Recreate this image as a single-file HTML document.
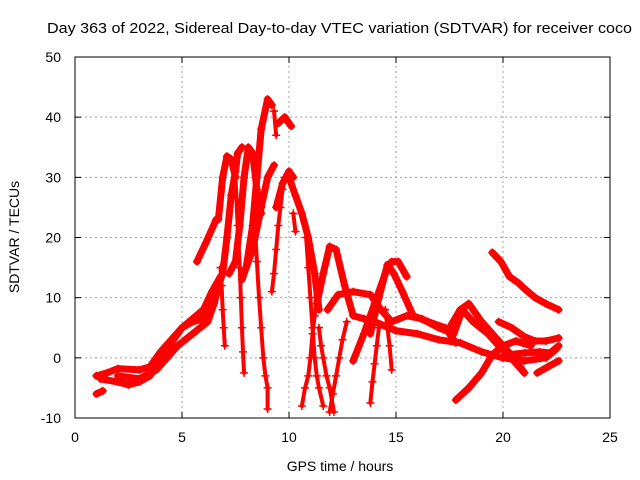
<!DOCTYPE html>
<html><head><meta charset="utf-8"><style>
html,body{margin:0;padding:0;background:#fff}
svg{display:block;font-family:"Liberation Sans",sans-serif}
</style></head><body>
<svg id="chart" width="640" height="480" viewBox="0 0 640 480" xmlns="http://www.w3.org/2000/svg">
<text x="47" y="33" font-size="15" textLength="585" lengthAdjust="spacingAndGlyphs">Day 363 of 2022, Sidereal Day-to-day VTEC variation (SDTVAR) for receiver coco</text>
<text x="340" y="471" font-size="14" text-anchor="middle">GPS time / hours</text>
<text transform="translate(19,237) rotate(-90)" font-size="14" text-anchor="middle">SDTVAR / TECUs</text>
<g id="grid"></g>
<g id="ticks"></g>
<g id="series"></g>
<rect x="75" y="57" width="535" height="361" fill="none" stroke="#000" stroke-width="1"/>
</svg>
<script>
const xTicks=[0,5,10,15,20,25];
const yTicks=[-10,0,10,20,30,40,50];
const denseTracks=[
 [[1,-3],[1.5,-2.5],[2,-1.8],[3,-2],[3.5,-1.5],[4,1],[4.5,3],[5,5],[5.5,6.5],[6,8],[6.4,11],[6.8,13.5]],
 [[1.2,-3.5],[2,-4],[2.5,-4.5],[3,-4],[3.5,-3],[4,-0.5],[4.5,2.5],[5,5],[5.5,6],[6,6.5],[6.3,8],[6.6,11],[6.9,14],[7.1,20],[7.3,27],[7.5,31],[7.6,34],[7.8,35]],
 [[2,-3],[3,-3.5],[3.8,-2],[4.3,0],[4.8,2],[5.5,4],[6.2,6],[6.5,9],[6.7,12]],
 [[5.7,16],[6.1,19],[6.6,23]],
 [[6.7,23],[6.9,30],[7.1,33.5],[7.3,33],[7.5,30]],
 [[7.2,14],[7.5,16],[7.7,22],[7.9,30],[8.1,35],[8.3,34],[8.5,28],[8.7,24]],
 [[8.0,15],[8.3,22],[8.5,30],[8.7,38],[9.0,43],[9.2,42]],
 [[7.8,13],[8.3,18],[8.7,25],[9.0,30],[9.3,32]],
 [[9.5,39],[9.8,40],[10.1,38.5]],
 [[9.4,25],[9.7,29],[10.0,31],[10.2,30]],
 [[10.0,30],[10.3,27],[10.6,24],[10.9,20],[11.2,14],[11.4,8]],
 [[11.3,9],[11.6,14],[11.9,18.5],[12.2,18],[12.6,12],[13,7],[13.5,6.5],[14,6],[15,4.5],[16,4],[17,3],[18,2.5],[19,1],[20,0],[21,-0.5],[22,0],[22.5,1.5]],
 [[13,-0.5],[13.5,4],[14,9],[14.5,14],[14.8,16],[15.1,16],[15.5,13.5]],
 [[13.8,4],[14.2,10],[14.6,15.5],[14.9,14],[15.3,11],[15.8,7],[16.5,6],[17.3,5],[17.8,2.5]],
 [[11.8,8],[12.3,10.5],[13,11],[13.8,10.5],[14.3,8],[14.8,6],[15.5,7],[16.2,6.5],[17,5],[17.7,4],[18.1,8],[18.6,6],[19.3,4],[19.8,2],[20.5,-0.5],[21,-2.5]],
 [[17.5,5],[18,8],[18.4,9],[19,6],[19.5,4],[20,2],[20.5,0],[21,-2.5]],
 [[17.8,-7],[18.4,-5],[19,-2.5],[19.5,0.5],[20,2],[20.6,2.8],[21.3,2]],
 [[19.5,17.5],[19.9,16],[20.3,13.5],[20.7,12.5],[21,11.5],[21.5,10],[22,9],[22.6,8]],
 [[19.8,6],[20.4,5],[21,3.5],[21.5,2.8],[22,2.8],[22.6,3.3]],
 [[20.2,0.5],[21,0.8],[21.7,1],[22.2,0.8],[22.6,2]],
 [[21.6,-2.5],[22.1,-1.5],[22.6,-0.5]],
 [[1,-6],[1.3,-5.5]]
];
const sparseTracks=[
 [[6.8,15],[6.85,12],[6.9,8],[6.95,5],[7.0,2]],
 [[7.5,30],[7.6,22],[7.7,15],[7.75,10],[7.8,5],[7.85,1],[7.9,-2.5]],
 [[8.4,22],[8.5,16],[8.6,10],[8.7,5],[8.8,0],[8.9,-3],[9.0,-5],[9.0,-8.5]],
 [[9.2,11],[9.3,14],[9.4,18],[9.5,22],[9.6,25],[9.7,28],[9.8,30]],
 [[9.3,41],[9.4,37]],
 [[10.2,24],[10.3,21]],
 [[10.8,20],[10.9,15],[11.0,10],[11.1,5],[11.2,0],[11.3,-3],[11.4,-5],[11.6,-8]],
 [[10.6,-8],[10.75,-5],[10.9,-3],[11.0,0],[11.1,4],[11.2,7],[11.3,10]],
 [[11.4,5],[11.5,2],[11.6,0],[11.75,-3],[11.9,-5],[12.1,-9]],
 [[11.9,-9],[12.05,-6],[12.2,-3],[12.35,0],[12.5,3],[12.7,6]],
 [[13.8,-7.5],[13.9,-4],[14.0,-1],[14.1,2],[14.2,5]],
 [[14.5,8],[14.6,5],[14.7,2],[14.8,-2]]
];
const X0=75,X1=610,Y0=418,Y1=57,XMIN=0,XMAX=25,YMIN=-10,YMAX=50;
const sx=v=>X0+(v-XMIN)/(XMAX-XMIN)*(X1-X0);
const sy=v=>Y0-(v-YMIN)/(YMAX-YMIN)*(Y0-Y1);
const NS="http://www.w3.org/2000/svg";
const grid=document.getElementById('grid'),ticks=document.getElementById('ticks'),series=document.getElementById('series');
function mk(tag,attrs,parent){const e=document.createElementNS(NS,tag);for(const k in attrs)e.setAttribute(k,attrs[k]);parent.appendChild(e);return e;}
xTicks.forEach(t=>{
 const x=sx(t);
 if(t>XMIN&&t<XMAX){const g=mk('line',{x1:x,x2:x,y1:Y0,y2:Y1,stroke:'#a0a0a0','stroke-dasharray':'2,3'},grid);
 
 }
 mk('line',{x1:x,x2:x,y1:Y0,y2:Y0-6,stroke:'#000'},ticks);
 mk('line',{x1:x,x2:x,y1:Y1,y2:Y1+6,stroke:'#000'},ticks);
 const l=mk('text',{x:x,y:Y0+24,'font-size':14,'text-anchor':'middle'},ticks);l.textContent=t;
 
 
});
yTicks.forEach(t=>{
 const y=sy(t);
 if(t>YMIN&&t<YMAX){const g=mk('line',{x1:X0,x2:X1,y1:y,y2:y,stroke:'#a0a0a0','stroke-dasharray':'2,3'},grid);
 
 }
 mk('line',{x1:X0,x2:X0+6,y1:y,y2:y,stroke:'#000'},ticks);
 mk('line',{x1:X1,x2:X1-6,y1:y,y2:y,stroke:'#000'},ticks);
 const l=mk('text',{x:X0-14,y:y+5,'font-size':14,'text-anchor':'end'},ticks);l.textContent=t;
 
 
});
function drawTrack(pts,w,name){
 const p=mk('polyline',{points:pts.map(q=>sx(q[0])+','+sy(q[1])).join(' '),fill:'none',stroke:'#ff0000','stroke-width':w,'stroke-linejoin':'round','stroke-linecap':'round'},series);
 
 
 pts.forEach(q=>{const x=sx(q[0]),y=sy(q[1]);
  mk('path',{d:`M${x-4},${y}H${x+4}M${x},${y-4}V${y+4}`,stroke:'#ff0000','stroke-width':1.5},series);});
}
denseTracks.forEach(t=>drawTrack(t,7,'satellite-track'));
sparseTracks.forEach(t=>drawTrack(t,4,'satellite-track-sparse'));
</script>
</body></html>
